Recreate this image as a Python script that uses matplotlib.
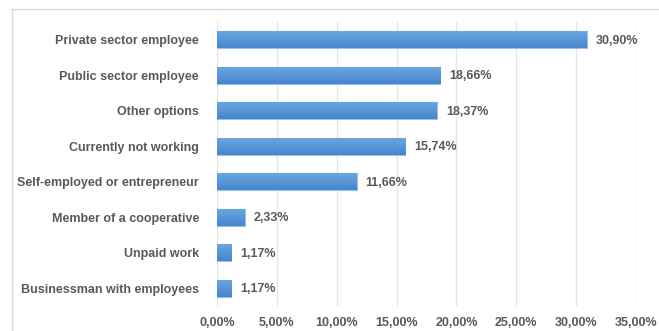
import numpy as np
import matplotlib.pyplot as plt
from matplotlib.lines import Line2D
from matplotlib.colors import LinearSegmentedColormap
from matplotlib.ticker import FuncFormatter, MultipleLocator

categories = [
    "Private sector employee",
    "Public sector employee",
    "Other options",
    "Currently not working",
    "Self-employed or entrepreneur",
    "Member of a cooperative",
    "Unpaid work",
    "Businessman with employees",
]
values = [30.90, 18.66, 18.37, 15.74, 11.66, 2.33, 1.17, 1.17]

text_color = "#595959"
grid_color = "#E3E6EB"
bar_cmap = LinearSegmentedColormap.from_list("bar", ["#6AA8E2", "#4785CD"])

plt.rcParams["font.family"] = ["Liberation Sans", "DejaVu Sans"]

fig = plt.figure(figsize=(6.59, 3.31), dpi=100)
fig.patch.set_facecolor("white")

# light chart-area frame (top and left edges)
frame_kw = dict(transform=fig.transFigure, color="#D9D9D9", linewidth=1.0)
fig.add_artist(Line2D([11 / 659, 1.0], [1 - 8.5 / 331] * 2, **frame_kw))
fig.add_artist(Line2D([11.5 / 659] * 2, [0.0, 1 - 8.5 / 331], **frame_kw))

ax = fig.add_axes([217 / 659, 1 - 306 / 331, (636 - 217) / 659, (306 - 22) / 331])

ypos = list(range(len(categories)))
bars = ax.barh(ypos, values, height=0.48, color="#5592D5",
               edgecolor="#9CC0EA", linewidth=0.8, zorder=3)

# vertical gradient fill inside each bar: lighter at the top edge
grad = np.linspace(0, 1, 64).reshape(-1, 1)
for b in bars:
    x0, y0 = b.get_x(), b.get_y()
    w, h = b.get_width(), b.get_height()
    im = ax.imshow(grad, cmap=bar_cmap, aspect="auto", interpolation="bilinear",
                   extent=(x0, x0 + w, y0, y0 + h), origin="lower", zorder=3.5)
    im.set_clip_path(b)

for y, v in zip(ypos, values):
    ax.text(v + 0.75, y + 0.03, f"{v:.2f}%".replace(".", ","), va="center", ha="left",
            fontsize=9, fontweight="bold", color=text_color)

ax.set_xlim(0, 35)
ax.set_ylim(len(categories) - 0.5, -0.5)
ax.set_yticks(ypos)
ax.set_yticklabels(categories)
ax.xaxis.set_major_locator(MultipleLocator(5))
ax.xaxis.set_major_formatter(FuncFormatter(lambda x, _: f"{x:.2f}%".replace(".", ",")))

ax.grid(axis="x", color=grid_color, linewidth=1.0, zorder=0)
for s in ax.spines.values():
    s.set_visible(False)
ax.tick_params(axis="both", length=0, labelsize=9, labelcolor=text_color)
ax.tick_params(axis="y", pad=13)
ax.tick_params(axis="x", pad=8)
for lbl in ax.get_xticklabels() + ax.get_yticklabels():
    lbl.set_fontweight("bold")

fig.savefig("out.png", dpi=100)
